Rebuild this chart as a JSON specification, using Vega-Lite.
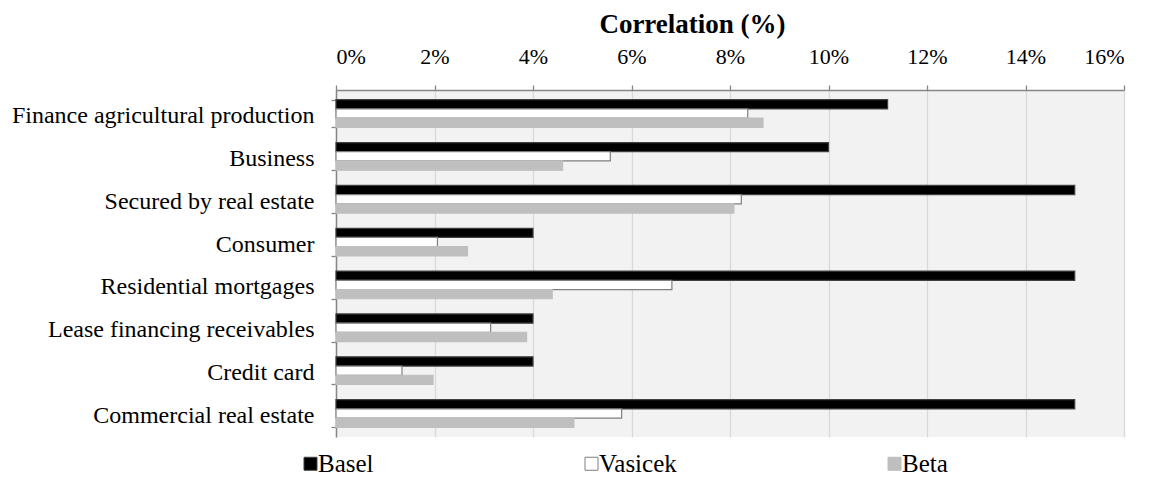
{
  "$schema": "https://vega.github.io/schema/vega-lite/v6.json",
  "autosize": {"type": "none"},
  "padding": {"left": 336, "top": 90, "right": 25, "bottom": 42},
  "width": 788,
  "height": 347,
  "background": "white",
  "config": {
    "font": "Liberation Serif, Times New Roman, serif",
    "axis": {"labelFont": "Liberation Serif, Times New Roman, serif", "titleFont": "Liberation Serif, Times New Roman, serif"},
    "legend": {"labelFont": "Liberation Serif, Times New Roman, serif"},
    "text": {"font": "Liberation Serif, Times New Roman, serif"},
    "view": {"fill": "#f2f2f2", "stroke": null}
  },
  "data": {
    "values": [
      {"category": "Finance agricultural production", "series": "Basel", "value": 11.2},
      {"category": "Finance agricultural production", "series": "Vasicek", "value": 8.36},
      {"category": "Finance agricultural production", "series": "Beta", "value": 8.67},
      {"category": "Business", "series": "Basel", "value": 10.0},
      {"category": "Business", "series": "Vasicek", "value": 5.57},
      {"category": "Business", "series": "Beta", "value": 4.6},
      {"category": "Secured by real estate", "series": "Basel", "value": 15.0},
      {"category": "Secured by real estate", "series": "Vasicek", "value": 8.23},
      {"category": "Secured by real estate", "series": "Beta", "value": 8.08},
      {"category": "Consumer", "series": "Basel", "value": 4.0},
      {"category": "Consumer", "series": "Vasicek", "value": 2.06},
      {"category": "Consumer", "series": "Beta", "value": 2.67},
      {"category": "Residential mortgages", "series": "Basel", "value": 15.0},
      {"category": "Residential mortgages", "series": "Vasicek", "value": 6.82},
      {"category": "Residential mortgages", "series": "Beta", "value": 4.39},
      {"category": "Lease financing receivables", "series": "Basel", "value": 4.0},
      {"category": "Lease financing receivables", "series": "Vasicek", "value": 3.14},
      {"category": "Lease financing receivables", "series": "Beta", "value": 3.87},
      {"category": "Credit card", "series": "Basel", "value": 4.0},
      {"category": "Credit card", "series": "Vasicek", "value": 1.34},
      {"category": "Credit card", "series": "Beta", "value": 1.97},
      {"category": "Commercial real estate", "series": "Basel", "value": 15.0},
      {"category": "Commercial real estate", "series": "Vasicek", "value": 5.8},
      {"category": "Commercial real estate", "series": "Beta", "value": 4.83}
    ]
  },
  "mark": {"type": "bar", "strokeWidth": 1.2},
  "encoding": {
    "x": {
      "field": "value",
      "type": "quantitative",
      "scale": {"domain": [0, 16], "nice": false},
      "axis": {
        "orient": "top",
        "values": [0, 2, 4, 6, 8, 10, 12, 14, 16],
        "labelExpr": "datum.value + '%'",
        "labelFont": "Liberation Serif, Times New Roman, serif",
        "labelFontSize": 22,
        "labelColor": "#000000",
        "labelPadding": 17,
        "tickSize": 5,
        "tickColor": "#868686",
        "tickWidth": 1.3,
        "domainColor": "#868686",
        "domainWidth": 1.5,
        "grid": true,
        "gridColor": "#d9d9d9",
        "gridWidth": 1.3,
        "title": "Correlation (%)",
        "titleFont": "Liberation Serif, Times New Roman, serif",
        "titleFontSize": 27,
        "titleFontWeight": "bold",
        "titleColor": "#000000",
        "titleX": 356,
        "titleY": -58,
        "titleAlign": "center",
        "titleBaseline": "alphabetic"
      }
    },
    "y": {
      "field": "category",
      "type": "nominal",
      "sort": ["Finance agricultural production", "Business", "Secured by real estate", "Consumer", "Residential mortgages", "Lease financing receivables", "Credit card", "Commercial real estate"],
      "scale": {"paddingInner": 0.355, "paddingOuter": 0.2255},
      "axis": {
        "title": null,
        "labelFont": "Liberation Serif, Times New Roman, serif",
        "labelFontSize": 24,
        "labelColor": "#000000",
        "labelPadding": 17,
        "labelLimit": 400,
        "labelOffset": 2,
        "tickBand": "extent",
        "tickSize": 5,
        "tickColor": "#868686",
        "tickWidth": 1.3,
        "domainColor": "#868686",
        "domainWidth": 1.5,
        "grid": false
      }
    },
    "yOffset": {
      "field": "series",
      "type": "nominal",
      "sort": ["Basel", "Vasicek", "Beta"]
    },
    "fill": {
      "field": "series",
      "type": "nominal",
      "scale": {"domain": ["Basel", "Vasicek", "Beta"], "range": ["#000000", "#ffffff", "#bfbfbf"]},
      "legend": {
        "orient": "none",
        "legendX": -38,
        "legendY": 361,
        "direction": "horizontal",
        "title": null,
        "symbolType": "square",
        "symbolSize": 169,
        "symbolStrokeWidth": 1,
        "labelFont": "Liberation Serif, Times New Roman, serif",
        "labelFontSize": 25,
        "labelColor": "#000000",
        "labelOffset": -5,
        "columnPadding": 205,
        "padding": 0
      }
    },
    "stroke": {
      "field": "series",
      "type": "nominal",
      "scale": {"domain": ["Basel", "Vasicek", "Beta"], "range": ["#404040", "#7f7f7f", "#bfbfbf"]}
    }
  }
}
